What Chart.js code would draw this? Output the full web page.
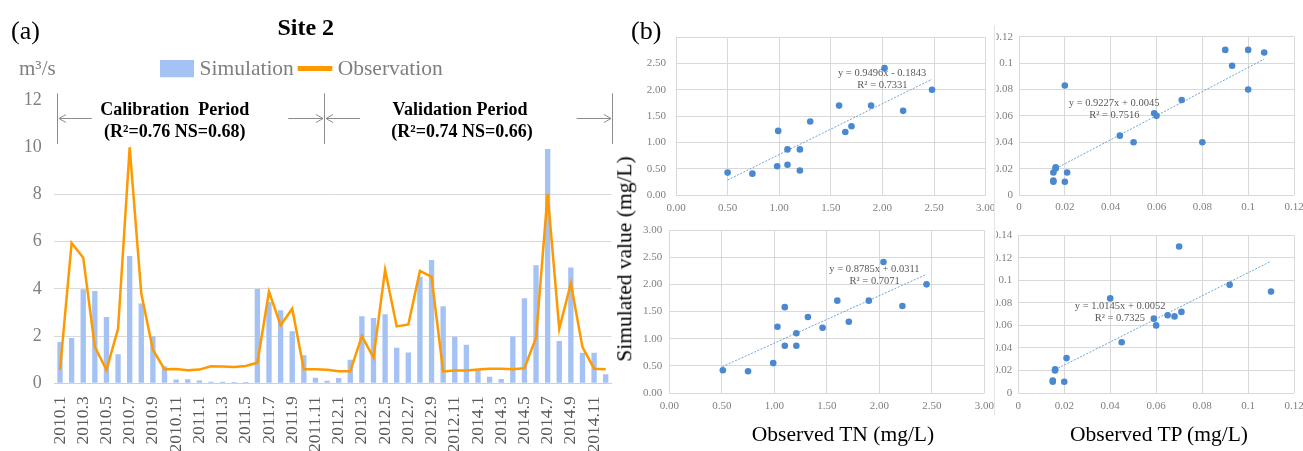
<!DOCTYPE html>
<html><head><meta charset="utf-8">
<script src="https://cdn.jsdelivr.net/npm/chart.js@4.4.0/dist/chart.umd.min.js"></script>
<style>
html,body{margin:0;padding:0;background:#fff;width:1303px;height:451px;overflow:hidden;font-family:'Liberation Serif','Times New Roman',serif;}
canvas{position:absolute;}
.lbl{position:absolute;color:#000;white-space:nowrap;line-height:1;z-index:5;}
.sep{position:absolute;background:#e4e4e4;}
</style></head><body>
<canvas id="ca"></canvas>
<canvas id="c2"></canvas>
<canvas id="c4"></canvas>
<canvas id="c1"></canvas>
<canvas id="c3"></canvas>
<div class="sep" style="left:994px;top:25px;width:1px;height:390px;"></div>
<div class="lbl" style="left:11px;top:18px;font-size:26px;">(a)</div>
<div class="lbl" style="left:631px;top:18px;font-size:26px;">(b)</div>
<div class="lbl" style="left:625px;top:259px;font-size:21.5px;transform:translate(-50%,-50%) rotate(-90deg);">Simulated value (mg/L)</div>
<div class="lbl" style="left:843px;top:435px;font-size:21.5px;transform:translate(-50%,-50%);">Observed TN (mg/L)</div>
<div class="lbl" style="left:1159px;top:435px;font-size:21.5px;transform:translate(-50%,-50%);">Observed TP (mg/L)</div>
<script>
const SERIF = "'Liberation Serif','Times New Roman',serif";

// ---------- Panel (a) data ----------
const months = [
 '2010.1','2010.2','2010.3','2010.4','2010.5','2010.6','2010.7','2010.8','2010.9','2010.10','2010.11','2010.12',
 '2011.1','2011.2','2011.3','2011.4','2011.5','2011.6','2011.7','2011.8','2011.9','2011.10','2011.11','2011.12',
 '2012.1','2012.2','2012.3','2012.4','2012.5','2012.6','2012.7','2012.8','2012.9','2012.10','2012.11','2012.12',
 '2014.1','2014.2','2014.3','2014.4','2014.5','2014.6','2014.7','2014.8','2014.9','2014.10','2014.11','2014.12'];
const monthTickLabels = ['2010.1','2010.3','2010.5','2010.7','2010.9','2010.11','2011.1','2011.3','2011.5','2011.7','2011.9','2011.11',
 '2012.1','2012.3','2012.5','2012.7','2012.9','2012.11','2014.1','2014.3','2014.5','2014.7','2014.9','2014.11'];
const simulation = [1.75,1.92,3.98,3.91,2.81,1.23,5.39,3.38,1.99,0.72,0.16,0.17,
 0.12,0.07,0.07,0.06,0.06,3.99,3.44,3.09,2.21,1.19,0.24,0.11,
 0.22,1.0,2.84,2.77,2.92,1.51,1.3,4.51,5.22,3.26,1.97,1.63,
 0.59,0.28,0.18,1.99,3.6,5.0,9.92,1.79,4.9,1.29,1.29,0.38];
const observation = [0.57,5.94,5.32,1.54,0.57,2.31,10.0,3.8,1.42,0.6,0.61,0.55,
 0.58,0.72,0.71,0.69,0.73,0.87,3.88,2.46,3.16,0.6,0.6,0.57,
 0.51,0.51,2.0,1.09,4.81,2.41,2.49,4.76,4.51,0.5,0.54,0.54,
 0.58,0.62,0.62,0.6,0.64,1.93,8.02,2.31,4.23,1.53,0.62,0.6];
const flowTicks = [0,2,4,6,8,10,12];

// ---------- Panel (b) data ----------
const tnCalObserved  = [0.50,0.74,0.98,0.99,1.08,1.08,1.20,1.20,1.30,1.58,1.64,1.70,1.89,2.02,2.20,2.48];
const tnCalSimulated = [0.43,0.41,0.55,1.22,0.87,0.58,0.87,0.47,1.40,1.70,1.20,1.31,1.70,2.41,1.60,2.00];
const tpCalObserved  = [0.015,0.015,0.015,0.016,0.016,0.021,0.020,0.020,0.044,0.050,0.059,0.060,0.071,0.080,0.090,0.093,0.100,0.100,0.107];
const tpCalSimulated = [0.017,0.011,0.010,0.021,0.020,0.017,0.010,0.083,0.045,0.040,0.062,0.060,0.072,0.040,0.110,0.098,0.110,0.080,0.108];
const tnValObserved  = [0.51,0.75,0.99,1.03,1.10,1.10,1.21,1.21,1.32,1.46,1.60,1.71,1.90,2.04,2.22,2.45];
const tnValSimulated = [0.42,0.40,0.55,1.22,1.58,0.87,1.10,0.87,1.40,1.20,1.70,1.31,1.70,2.41,1.60,2.00];
const tpValObserved  = [0.015,0.015,0.016,0.016,0.020,0.021,0.040,0.045,0.059,0.060,0.065,0.068,0.071,0.070,0.092,0.110];
const tpValSimulated = [0.011,0.010,0.020,0.021,0.010,0.031,0.084,0.045,0.066,0.060,0.069,0.068,0.072,0.130,0.096,0.090];
// trendline end points
const tnCalTrendX = [0.50,2.48], tnCalTrendY = [0.29,2.20];
const tpCalTrendX = [0.016,0.107], tpCalTrendY = [0.020,0.103];
const tnValTrendX = [0.505,2.45], tnValTrendY = [0.485,2.184];
const tpValTrendX = [0.016,0.1096], tpValTrendY = [0.0207,0.1166];
const tnTicks = [0,0.5,1,1.5,2,2.5,3];
const tpTicks = [0,0.02,0.04,0.06,0.08,0.1,0.12];
const tpTicksVal = [0,0.02,0.04,0.06,0.08,0.1,0.12,0.14];

// ---------- Panel (a) chart ----------
const annotPlugin = {
  id: 'periods',
  afterDraw(chart) {
    const ctx = chart.ctx, xs = chart.scales.x, ys = chart.scales.y;
    ctx.save();
    // unit label
    ctx.fillStyle = '#7f7f7f'; ctx.font = "21px " + SERIF; ctx.textAlign = 'left'; ctx.textBaseline = 'middle';
    ctx.fillText('m\u00b3/s', 19, 69);
    // legend
    ctx.fillStyle = '#a4c2f4'; ctx.fillRect(160, 60, 34, 17.3);
    ctx.fillStyle = '#7f7f7f'; ctx.font = "21.5px " + SERIF;
    ctx.fillText('Simulation', 199.5, 69);
    ctx.strokeStyle = '#ff9900'; ctx.lineWidth = 5;
    ctx.beginPath(); ctx.moveTo(297.7, 68.5); ctx.lineTo(332.3, 68.5); ctx.stroke();
    ctx.fillText('Observation', 337.7, 69);
    // period markers
    ctx.strokeStyle = '#8c8c8c'; ctx.lineWidth = 1;
    const yTop = ys.getPixelForValue(12.28), yBot = ys.getPixelForValue(10.14), yA = Math.round(ys.getPixelForValue(11.25)) + 0.5;
    const vx = [-0.285, 22.74, 47.52].map(v => Math.round(xs.getPixelForValue(v)) + 0.5);
    vx.forEach(x => { ctx.beginPath(); ctx.moveTo(x, yTop); ctx.lineTo(x, yBot); ctx.stroke(); });
    const arrow = (tail, tip) => {
      const dir = Math.sign(tip - tail);
      ctx.beginPath(); ctx.moveTo(tail, yA); ctx.lineTo(tip, yA); ctx.stroke();
      ctx.beginPath(); ctx.moveTo(tip - dir * 7, yA - 4); ctx.lineTo(tip, yA); ctx.lineTo(tip - dir * 7, yA + 4); ctx.stroke();
    };
    arrow(xs.getPixelForValue(2.73), vx[0] + 1.5);
    arrow(xs.getPixelForValue(19.66), vx[1] - 1.5);
    arrow(xs.getPixelForValue(25.84), vx[1] + 1.5);
    arrow(xs.getPixelForValue(44.5), vx[2] - 1.5);
    ctx.fillStyle = '#000'; ctx.font = "bold 18px " + SERIF; ctx.textAlign = 'center'; ctx.textBaseline = 'middle';
    const cx = xs.getPixelForValue(9.88), vxc = xs.getPixelForValue(34.45);
    const r1 = ys.getPixelForValue(11.58), r2 = ys.getPixelForValue(10.63);
    ctx.fillText('Calibration  Period', cx, r1);
    ctx.fillText('(R\u00b2=0.76 NS=0.68)', cx, r2);
    ctx.fillText('Validation Period', vxc, r1);
    ctx.fillText('(R\u00b2=0.74 NS=0.66)', vxc + 2, r2);
    ctx.restore();
  }
};

const ca = document.getElementById('ca');
ca.width = 620; ca.height = 451; ca.style.left = '0px'; ca.style.top = '0px';
new Chart(ca, {
  type: 'bar',
  data: {
    labels: months,
    datasets: [
      {type: 'bar', label: 'Simulation', data: simulation, backgroundColor: '#a4c2f4', barPercentage: 0.46, categoryPercentage: 1, order: 2},
      {type: 'line', label: 'Observation', data: observation, borderColor: '#ff9900', backgroundColor: '#ff9900', borderWidth: 2.5, pointRadius: 0, tension: 0, order: 1}
    ]
  },
  options: {
    responsive: false, animation: false, devicePixelRatio: 1,
    layout: {padding: {left: 0, right: 8.5, top: 0, bottom: 0}},
    plugins: {
      legend: {display: false}, tooltip: {enabled: false},
      title: {display: true, text: 'Site 2', color: '#000', font: {family: SERIF, size: 24, weight: 'bold'}, padding: {top: 14.6, bottom: 56.6}}
    },
    scales: {
      x: {
        grid: {display: false, drawTicks: false},
        border: {display: true, color: '#d0d0d0'},
        ticks: {autoSkip: false, minRotation: 90, maxRotation: 90, padding: 13, color: '#595959', font: {family: SERIF, size: 17.5},
          callback(v, i) { const l = months[i]; return monthTickLabels.includes(l) ? l : ''; }},
        afterFit(s) { s.height = 67.7; s.paddingLeft = 0; s.paddingRight = 0; }
      },
      y: {
        min: 0, max: 12,
        afterBuildTicks(s) { s.ticks = flowTicks.map(v => ({value: v})); },
        grid: {drawTicks: false, color: c => (c.tick && c.tick.value > 0 && c.tick.value < 10) ? '#d9d9d9' : 'rgba(0,0,0,0)'},
        border: {display: false},
        ticks: {padding: 12.5, color: '#7f7f7f', font: {family: SERIF, size: 18}},
        afterFit(s) { s.width = 54.2; s.paddingTop = 0; s.paddingBottom = 0; }
      }
    }
  },
  plugins: [annotPlugin]
});

// ---------- Panel (b) charts ----------
const eqPlugin = {
  id: 'eq',
  afterDatasetsDraw(chart, args, opts) {
    const ctx = chart.ctx, xs = chart.scales.x, ys = chart.scales.y;
    ctx.save();
    ctx.fillStyle = '#595959'; ctx.font = "10.5px " + SERIF; ctx.textAlign = 'center'; ctx.textBaseline = 'middle';
    opts.lines.forEach(l => ctx.fillText(l.text, xs.getPixelForValue(l.x), ys.getPixelForValue(l.y)));
    ctx.restore();
  }
};
const fmtTN = v => v.toFixed(2);
const fmtTP = v => String(+v.toFixed(2));

function scatter(id, c) {
  const el = document.getElementById(id);
  el.width = c.box.w; el.height = c.box.h; el.style.left = c.box.l + 'px'; el.style.top = c.box.t + 'px';
  const pts = c.xs.map((x, i) => ({x, y: c.ys[i]}));
  const trend = c.tx.map((x, i) => ({x, y: c.ty[i]}));
  const xH = c.box.t + c.box.h - c.area.b, yW = c.area.l - c.box.l;
  new Chart(el, {
    type: 'scatter',
    data: {datasets: [
      {label: 'points', data: pts, backgroundColor: '#4a89cf', borderWidth: 0, pointRadius: 3.3, order: 1},
      {type: 'line', label: 'trend', data: trend, borderColor: '#6fa3d8', borderWidth: 1, borderDash: [2, 1.5], pointRadius: 0, fill: false, order: 2}
    ]},
    options: {
      responsive: false, animation: false, devicePixelRatio: 1,
      layout: {padding: {left: 0, bottom: 0, top: c.area.t - c.box.t, right: c.box.l + c.box.w - c.area.r}},
      plugins: {legend: {display: false}, tooltip: {enabled: false}, eq: {lines: c.eq}},
      scales: {
        x: {type: 'linear', min: 0, max: c.xt[c.xt.length - 1],
          afterBuildTicks(s) { s.ticks = c.xt.map(v => ({value: v})); },
          grid: {color: '#d9d9d9', drawTicks: false}, border: {display: false},
          ticks: {padding: c.xPad, color: '#7f7f7f', font: {family: SERIF, size: 11}, callback: v => c.fmt(v)},
          afterFit(s) { s.height = xH; s.paddingLeft = 0; s.paddingRight = 0; }},
        y: {type: 'linear', min: 0, max: c.yt[c.yt.length - 1],
          afterBuildTicks(s) { s.ticks = c.yt.map(v => ({value: v})); },
          grid: {color: '#d9d9d9', drawTicks: false}, border: {display: false},
          ticks: {padding: c.yPad, color: '#7f7f7f', font: {family: SERIF, size: 11},
            callback: v => (c.hideTop && v === c.yt[c.yt.length - 1]) ? '' : c.fmt(v)},
          afterFit(s) { s.width = yW; s.paddingTop = 0; s.paddingBottom = 0; }}
      }
    },
    plugins: [eqPlugin]
  });
}

scatter('c1', {box: {l: 630, t: 27, w: 374, h: 198}, area: {l: 676, t: 37, r: 985.7, b: 195.3},
  xs: tnCalObserved, ys: tnCalSimulated, tx: tnCalTrendX, ty: tnCalTrendY, xt: tnTicks, yt: tnTicks, fmt: fmtTN,
  xPad: 6, yPad: 10, hideTop: true,
  eq: [{text: 'y = 0.9496x - 0.1843', x: 1.996, y: 2.31}, {text: 'R\u00b2 = 0.7331', x: 2.0, y: 2.085}]});
scatter('c2', {box: {l: 996, t: 27, w: 307, h: 198}, area: {l: 1019, t: 36.7, r: 1294, b: 195},
  xs: tpCalObserved, ys: tpCalSimulated, tx: tpCalTrendX, ty: tpCalTrendY, xt: tpTicks, yt: tpTicks, fmt: fmtTP,
  xPad: 6, yPad: 6, hideTop: false,
  eq: [{text: 'y = 0.9227x + 0.0045', x: 0.0415, y: 0.0695}, {text: 'R\u00b2 = 0.7516', x: 0.0416, y: 0.0601}]});
scatter('c3', {box: {l: 630, t: 222, w: 374, h: 200}, area: {l: 669.3, t: 230, r: 984.3, b: 393},
  xs: tnValObserved, ys: tnValSimulated, tx: tnValTrendX, ty: tnValTrendY, xt: tnTicks, yt: tnTicks, fmt: fmtTN,
  xPad: 7, yPad: 7, hideTop: false,
  eq: [{text: 'y = 0.8785x + 0.0311', x: 1.954, y: 2.277}, {text: 'R\u00b2 = 0.7071', x: 1.956, y: 2.049}]});
scatter('c4', {box: {l: 996, t: 222, w: 307, h: 200}, area: {l: 1018.3, t: 235.3, r: 1294, b: 393},
  xs: tpValObserved, ys: tpValSimulated, tx: tpValTrendX, ty: tpValTrendY, xt: tpTicks, yt: tpTicksVal, fmt: fmtTP,
  xPad: 7, yPad: 6, hideTop: false,
  eq: [{text: 'y = 1.0145x + 0.0052', x: 0.0443, y: 0.0772}, {text: 'R\u00b2 = 0.7325', x: 0.0442, y: 0.0666}]});
</script>
</body></html>
